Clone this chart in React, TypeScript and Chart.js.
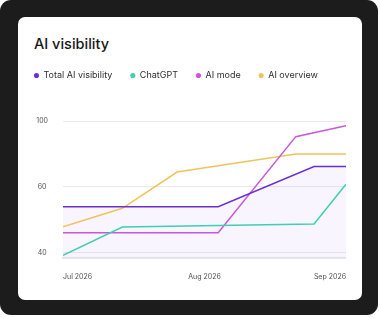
import { useEffect, useRef } from 'react';
import { Chart, registerables } from 'chart.js';

Chart.register(...registerables);

const chartTitle = 'AI visibility';
const seriesNames = ['Total AI visibility', 'ChatGPT', 'AI mode', 'AI overview'];
const seriesColors = ['#6a2fd2', '#40cfb3', '#c957d8', '#f0c45a'];
const xTickLabels = ['Jul 2026', 'Aug 2026', 'Sep 2026'];
const xTickDates = ['2026-07-01', '2026-08-01', '2026-09-01'];
const yTickValues = [40, 60, 100];
const yAxisBottomValue = 38.4;

const totalDates = ['2026-07-01', '2026-08-04', '2026-08-25', '2026-09-01'];
const totalValues = [54, 54, 72.4, 72.4];
const chatgptDates = ['2026-07-01', '2026-07-14', '2026-08-25', '2026-09-01'];
const chatgptValues = [39.2, 47.8, 48.7, 61.6];
const aiModeDates = ['2026-07-01', '2026-08-04', '2026-08-21', '2026-09-01'];
const aiModeValues = [46.1, 46.1, 90.5, 97.2];
const aiOverviewDates = ['2026-07-01', '2026-07-14', '2026-07-26', '2026-08-21', '2026-09-01'];
const aiOverviewValues = [47.9, 53.5, 69, 80, 80];

const FONT = 'Inter, "Noto Sans", sans-serif';

const dayOffset = (d: string) => (Date.parse(d) - Date.parse(xTickDates[0])) / 86400000;

// the value axis is evenly spaced between its labelled ticks (40, 60, 100)
const toAxis = (v: number) => {
  const t = yTickValues;
  let i = 0;
  if (v > t[1]) i = 1;
  return i + (v - t[i]) / (t[i + 1] - t[i]);
};

const toPoints = (dates: string[], values: number[]) =>
  dates.map((d, i) => ({ x: dayOffset(d), y: toAxis(values[i]) }));

const legendSpacer = {
  id: 'legendSpacer',
  beforeLayout(chart: any) {
    const lg = chart.legend;
    if (lg && !lg._spacerPatched) {
      const orig = lg.fit;
      lg.fit = function () {
        orig.call(this);
        this.height += 31;
      };
      lg._spacerPatched = true;
    }
  },
};

export default function App() {
  const ref = useRef<HTMLCanvasElement | null>(null);

  useEffect(() => {
    if (!ref.current) return;
    const seriesData = [
      toPoints(totalDates, totalValues),
      toPoints(chatgptDates, chatgptValues),
      toPoints(aiModeDates, aiModeValues),
      toPoints(aiOverviewDates, aiOverviewValues),
    ];
    const chart = new Chart(ref.current, {
      type: 'line',
      data: {
        datasets: seriesNames.map((name, i) => ({
          label: name,
          data: seriesData[i],
          borderColor: seriesColors[i],
          backgroundColor: i === 0 ? 'rgba(125, 70, 235, 0.055)' : seriesColors[i],
          pointBackgroundColor: seriesColors[i],
          pointBorderColor: seriesColors[i],
          pointBorderWidth: 0,
          pointRadius: 0,
          borderWidth: 1.5,
          tension: 0,
          fill: i === 0 ? 'start' : false,
        })),
      },
      options: {
        animation: false,
        responsive: false,
        layout: { padding: 0 },
        plugins: {
          filler: { drawTime: 'beforeDatasetsDraw' },
          tooltip: { enabled: false },
          title: { display: false },
          legend: {
            display: true,
            position: 'top',
            align: 'start',
            labels: {
              usePointStyle: true,
              pointStyle: 'circle',
              boxWidth: 5,
              boxHeight: 3.6,
              padding: 18,
              color: '#2e2e2e',
              font: { family: FONT, size: 9 },
            },
          },
        },
        scales: {
          x: {
            type: 'linear',
            min: dayOffset(xTickDates[0]),
            max: dayOffset(xTickDates[xTickDates.length - 1]),
            afterBuildTicks: (scale: any) => {
              scale.ticks = xTickDates.map((d) => ({ value: dayOffset(d) }));
            },
            afterFit: (scale: any) => {
              scale.height = 26;
            },
            grid: {
              display: true,
              drawOnChartArea: false,
              drawTicks: true,
              tickLength: 14.5,
              color: 'rgba(0,0,0,0)',
              tickColor: 'rgba(0,0,0,0)',
            },
            border: { display: true, color: '#e7e7e9', width: 2 },
            ticks: {
              autoSkip: false,
              maxRotation: 0,
              align: 'inner',
              padding: 0,
              color: '#505050',
              font: { family: FONT, size: 7 },
              callback: (_v: any, idx: number) => xTickLabels[idx],
            },
          },
          y: {
            type: 'linear',
            min: toAxis(yAxisBottomValue),
            max: toAxis(yTickValues[yTickValues.length - 1]),
            afterBuildTicks: (scale: any) => {
              scale.ticks = yTickValues.map((_t, i) => ({ value: i }));
            },
            afterFit: (scale: any) => {
              scale.width = 47;
            },
            grid: { color: '#e9e9eb', lineWidth: 1, drawTicks: false },
            border: { display: false },
            ticks: {
              crossAlign: 'center',
              padding: 15,
              color: '#505050',
              font: { family: FONT, size: 7 },
              callback: (_v: any, idx: number) => String(yTickValues[idx]),
            },
          },
        },
      },
      plugins: [legendSpacer],
    } as any);
    return () => chart.destroy();
  }, []);

  return (
    <div style={{ position: 'fixed', left: 0, top: 0, width: 380, height: 318, background: '#ffffff' }}>
      <div
        style={{
          position: 'absolute',
          left: 0,
          top: 0,
          width: 378,
          height: 315,
          background: '#1c1c1c',
          borderRadius: 11,
        }}
      />
      <div
        style={{
          position: 'absolute',
          left: 18,
          top: 17,
          width: 344,
          height: 283,
          background: '#ffffff',
          borderRadius: 7,
        }}
      />
      <div
        style={{
          position: 'absolute',
          left: 34,
          top: 37,
          fontFamily: FONT,
          fontSize: 14.5,
          lineHeight: 1,
          fontWeight: 500,
          color: '#161616',
          whiteSpace: 'nowrap',
        }}
      >
        {chartTitle}
      </div>
      <canvas
        ref={ref}
        width={330}
        height={231}
        style={{ position: 'absolute', left: 16, top: 53, width: 330, height: 231 }}
      />
    </div>
  );
}
